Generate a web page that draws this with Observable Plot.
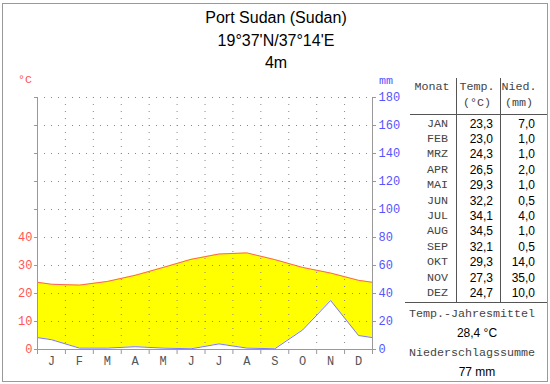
<!DOCTYPE html>
<html>
<head>
<meta charset="utf-8">
<script src="https://cdn.jsdelivr.net/npm/d3@7"></script>
<script src="https://cdn.jsdelivr.net/npm/@observablehq/plot@0.6"></script>
<style>
  body { margin: 0; background: #fff; }
  #wrap { position: relative; width: 550px; height: 384px; overflow: hidden; background: #fff; }
  #chart { position: absolute; left: 0; top: 0; }
  #chart svg { background: transparent !important; }
  .t { position: absolute; white-space: nowrap; line-height: 14px; height: 14px; }
  .mono { font-family: "Liberation Mono", "DejaVu Sans Mono", monospace; font-size: 11.7px; color: #444; }
  .sans { font-family: "Liberation Sans", Arial, sans-serif; font-size: 12px; color: #000; }
  .title { font-family: "Liberation Sans", Arial, sans-serif; font-size: 16px; color: #000; line-height: 20px; height: 20px; }
  .hl { position: absolute; height: 0; border-top: 1px solid #555; }
  .vl { position: absolute; width: 0; border-left: 1px solid #555; }
  #frame { position: absolute; left: 2px; top: 3px; width: 546px; height: 379px; border: 1px solid #999; box-sizing: border-box; }
</style>
</head>
<body>
<div id="wrap">
  <div id="chart"></div>
  <div id="frame"></div>
</div>
<script>
// ---- data ----
const titleLines = ["Port Sudan (Sudan)", "19°37'N/37°14'E", "4m"];
const months = ["JAN", "FEB", "MRZ", "APR", "MAI", "JUN", "JUL", "AUG", "SEP", "OKT", "NOV", "DEZ"];
const monthLetters = ["J", "F", "M", "A", "M", "J", "J", "A", "S", "O", "N", "D"];
const temperature = [23.3, 23.0, 24.3, 26.5, 29.3, 32.2, 34.1, 34.5, 32.1, 29.3, 27.3, 24.7];
const precipitation = [7.0, 1.0, 1.0, 2.0, 1.0, 0.5, 4.0, 1.0, 0.5, 14.0, 35.0, 10.0];
const tempTicks = [0, 10, 20, 30, 40];
const precTicks = [0, 20, 40, 60, 80, 100, 120, 140, 160, 180];

// ---- derived table for plotting (temperature scaled 1°C = 2 mm) ----
const rows = months.map((m, i) => ({x: i + 0.5, t: temperature[i] * 2, p: precipitation[i]}));
const edge = {t: (temperature[0] + temperature[11]), p: (precipitation[0] + precipitation[11]) / 2};
const series = [{x: 0, ...edge}, ...rows, {x: 12, ...edge}];

const grey = "#999";
const mono = "Liberation Mono, DejaVu Sans Mono, monospace";

const plot = Plot.plot({
  width: 550,
  height: 384,
  marginLeft: 37,
  marginRight: 178,
  marginTop: 97,
  marginBottom: 35,
  x: {type: "linear", domain: [0, 12], axis: null},
  y: {domain: [0, 180], axis: null},
  style: {background: "transparent", overflow: "visible"},
  marks: [
    Plot.areaY(series, {x: "x", y1: "p", y2: "t", fill: "#ffff00", curve: "linear"}),
    Plot.ruleY(precTicks.filter(d => d > 0), {stroke: "#888", strokeDasharray: "1,6"}),
    Plot.ruleX(d3.range(1, 12), {stroke: "#888", strokeDasharray: "1,6"}),
    Plot.lineY(series, {x: "x", y: "t", stroke: "#ff6060", strokeWidth: 1}),
    Plot.lineY(series, {x: "x", y: "p", stroke: "#7878ff", strokeWidth: 1}),
    Plot.ruleX([0, 12], {y1: 0, y2: 180, stroke: grey}),
    Plot.ruleY([0], {stroke: grey}),
    Plot.axisY(precTicks, {anchor: "left", tickSize: 3, tickFormat: () => "", color: grey, label: null}),
    Plot.axisY(tempTicks.map(d => d * 2), {anchor: "left", tickSize: 0, tickPadding: 5, tickFormat: d => d / 2, color: "#ff5555", fontFamily: mono, fontSize: 12, label: null}),
    Plot.axisY(precTicks, {anchor: "right", tickSize: 3, tickFormat: () => "", color: grey, label: null}),
    Plot.axisY(precTicks, {anchor: "right", tickSize: 0, tickPadding: 6, color: "#5555ff", fontFamily: mono, fontSize: 12, label: null}),
    Plot.axisX(d3.range(0, 13), {tickSize: 5, tickFormat: () => "", color: grey, label: null}),
    Plot.axisX(d3.range(12).map(i => i + 0.5), {tickSize: 0, tickPadding: 7, tickFormat: d => monthLetters[Math.floor(d)], color: "#555", fontFamily: mono, fontSize: 12, label: null})
  ]
});
document.getElementById("chart").appendChild(plot);

// ---- text overlays ----
const wrap = document.getElementById("wrap");
function place(text, x, y, anchor, cls, color) {
  const d = document.createElement("div");
  d.className = "t " + cls;
  d.textContent = text;
  const h = cls.includes("title") ? 20 : 14;
  d.style.top = (y - h / 2) + "px";
  d.style.left = x + "px";
  d.style.transform = anchor === "middle" ? "translateX(-50%)" : anchor === "end" ? "translateX(-100%)" : "none";
  if (color) d.style.color = color;
  wrap.appendChild(d);
}
function hline(x1, x2, y) {
  const d = document.createElement("div");
  d.className = "hl";
  d.style.left = x1 + "px"; d.style.width = (x2 - x1) + "px"; d.style.top = y + "px";
  wrap.appendChild(d);
}
function vline(x, y1, y2) {
  const d = document.createElement("div");
  d.className = "vl";
  d.style.left = x + "px"; d.style.top = y1 + "px"; d.style.height = (y2 - y1) + "px";
  wrap.appendChild(d);
}

titleLines.forEach((s, i) => place(s, 276, [18, 41, 63][i], "middle", "title"));
place("°C", 25, 80, "middle", "mono", "#ff5555");
place("mm", 386, 81, "middle", "mono", "#5555ff");

// table
const fmt = v => v.toFixed(1).replace(".", ",");
place("Monat", 432, 87, "middle", "mono");
place("Temp.", 477, 87, "middle", "mono");
place("(°C)", 477, 103, "middle", "mono");
place("Nied.", 519, 87, "middle", "mono");
place("(mm)", 519, 103, "middle", "mono");
hline(410, 547, 114);
vline(456, 78, 302);
vline(500, 78, 302);
months.forEach((m, i) => {
  const y = 123.5 + i * 15.4;
  place(m, 448, y, "end", "mono");
  place(fmt(temperature[i]), 493, y, "end", "sans");
  place(fmt(precipitation[i]), 535, y, "end", "sans");
});
hline(405, 547, 302);
const meanT = d3.mean(temperature);
const sumP = d3.sum(precipitation);
place("Temp.-Jahresmittel", 472, 314, "middle", "mono");
place(fmt(meanT) + " °C", 477, 333, "middle", "sans");
place("Niederschlagssumme", 472, 353, "middle", "mono");
place(Math.round(sumP) + " mm", 477, 372, "middle", "sans");
</script>
</body>
</html>
